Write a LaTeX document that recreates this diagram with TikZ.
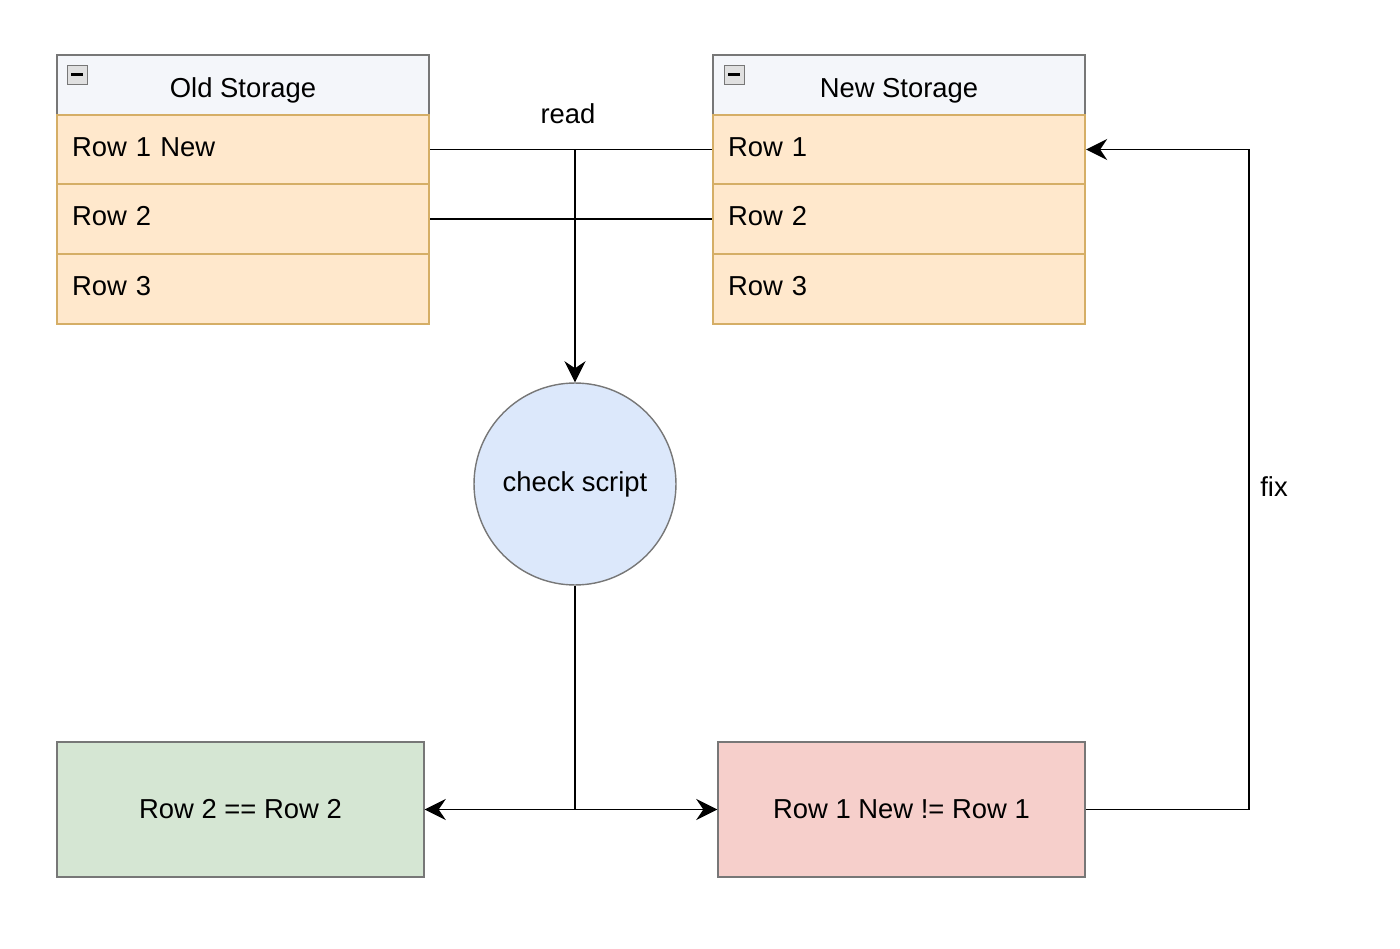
\documentclass[tikz,border=0pt]{standalone}
\usepackage{fontspec}
\setmainfont{Liberation Sans}
\usetikzlibrary{arrows.meta}
\definecolor{headfill}{HTML}{F4F6FA}
\definecolor{rowfill}{HTML}{FFE8CC}
\definecolor{rowline}{HTML}{D5AE66}
\definecolor{bluefill}{HTML}{DCE8FB}
\definecolor{greenfill}{HTML}{D5E6D3}
\definecolor{redfill}{HTML}{F6CFCB}
\definecolor{boxline}{HTML}{777777}
\tikzset{
  txt/.style={font=\fontsize{15.6}{18}\selectfont},
  tblhead/.style={txt,draw=boxline,fill=headfill,line width=1pt,minimum width=7.44cm,minimum height=1.24cm,inner sep=0pt,text height=3ex},
  tblrow/.style={txt,draw=rowline,fill=rowfill,line width=1.3pt,text width=6.84cm,inner xsep=0.3cm,minimum height=1.39cm,align=left,text depth=0.6ex},
  resbox/.style={txt,draw=boxline,line width=0.8pt,minimum width=7.34cm,minimum height=2.7cm},
  link/.style={line width=0.9pt},
  flow/.style={line width=1.1pt,-{Stealth[length=12pt,width=12pt,inset=4pt]}}
}
\begin{document}
\begin{tikzpicture}[x=0.02cm,y=-0.02cm]
 \useasboundingbox (0,0) rectangle (1400,949);
 % old storage
 \node[tblhead] (oldhead) at (243,86) {Old Storage};
 \node[tblrow] (old1) at (243,149.5) {Row 1 New};
 \node[tblrow] (old2) at (243,219) {Row 2};
 \node[tblrow] (old3) at (243,289) {Row 3};
 \draw[boxline,fill=black!12] (67,65) rectangle (87,84);
 \draw[line width=1.6pt] (71,74.5) -- (83,74.5);
 % new storage
 \node[tblhead] (newhead) at (899,86) {New Storage};
 \node[tblrow] (new1) at (899,149.5) {Row 1};
 \node[tblrow] (new2) at (899,219) {Row 2};
 \node[tblrow] (new3) at (899,289) {Row 3};
 \draw[boxline,fill=black!12] (724,65) rectangle (744,84);
 \draw[line width=1.6pt] (728,74.5) -- (740,74.5);
 % check
 \node[txt,circle,draw=boxline,fill=bluefill,line width=0.8pt,minimum size=4.04cm,inner sep=0pt] (check) at (575,484) {check script};
 \node[resbox,fill=greenfill] (same) at (240.5,809.5) {Row 2 == Row 2};
 \node[resbox,fill=redfill] (diff) at (901.5,809.5) {Row 1 New != Row 1};
 \coordinate (split) at (575,809.5);
 \coordinate (back) at (1249,809.5);
 % connectors
 \draw[link] (old1.east) -- (new1.west);
 \draw[link] (old2.east) -- (new2.west);
 \draw[flow] (575,149.5) -- (check.north);
 \node[txt] (readlbl) at (568,114) {read};
 \draw[link,line width=1.1pt] (check.south) -- (split);
 \draw[flow] (split) -- (same.east);
 \draw[flow] (split) -- (diff.west);
 \draw[flow] (diff.east) -- (back) |- (new1.east);
 \node[txt] (fixlbl) at (1274,487) {fix};
\end{tikzpicture}
\end{document}
